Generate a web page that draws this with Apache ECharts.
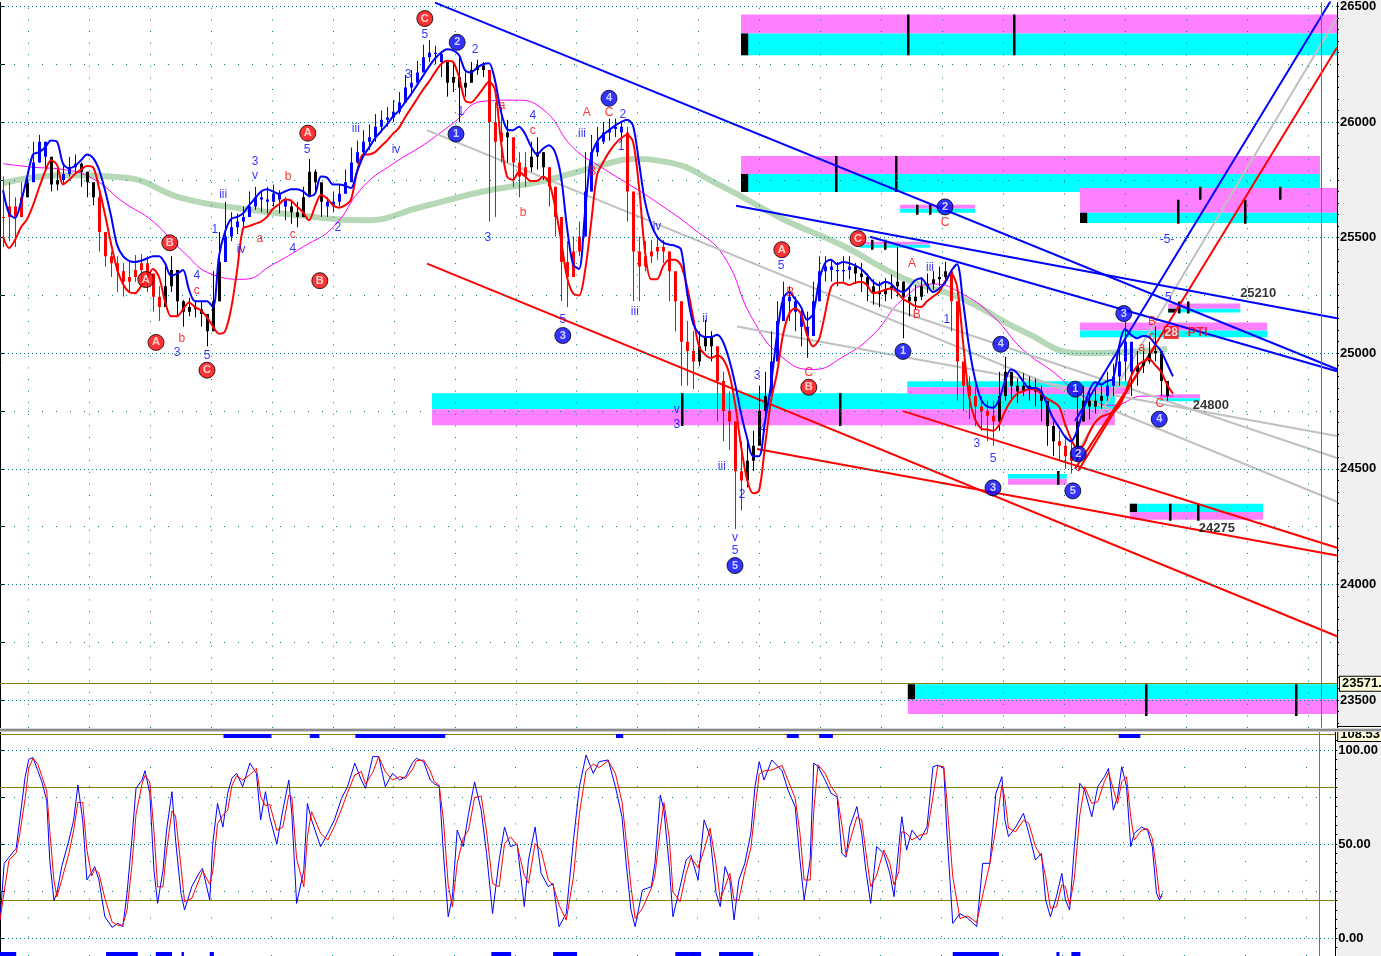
<!DOCTYPE html>
<html><head><meta charset="utf-8">
<script src="https://cdn.jsdelivr.net/npm/echarts/dist/echarts.min.js"></script>
<style>html,body{margin:0;padding:0;background:#fff}#chart{width:1381px;height:956px}</style>
</head><body><div id="chart"></div>
<script>
// ---------------- DATA ----------------
// bar index i is drawn at position i + 0.5 on the time axis
const closes = [25590,25635,25590,25675,25740,25825,25915,25850,25730,25750,
25775,25805,25820,25785,25740,25675,25525,25420,25390,25355,
25310,25330,25360,25390,25345,25245,25200,25290,25360,25225,
25180,25200,25190,25170,25095,25225,25395,25505,25545,25570,
25590,25635,25675,25665,25655,25690,25665,25635,25610,25590,
25675,25785,25740,25655,25635,25655,25690,25740,25825,25870,
25915,25935,25980,26010,26020,26045,26085,26150,26170,26215,
26280,26300,26295,26260,26170,26195,26150,26170,26225,26245,
26225,26000,25915,25955,25935,25825,25765,25805,25850,25870,
25805,25720,25590,25395,25330,25440,25505,25700,25870,25915,
25955,25970,25980,25955,25700,25440,25375,25420,25440,25460,
25440,25355,25225,25050,25010,24965,25030,25075,25030,24880,
24750,24705,24490,24450,24535,24600,24750,24815,24965,25140,
25245,25225,25180,25115,25075,25225,25355,25375,25360,25355,
25360,25375,25345,25330,25290,25265,25255,25275,25290,25310,
25245,25225,25245,25290,25300,25320,25330,25355,25225,24965,
24860,24815,24770,24750,24730,24705,24815,24920,24860,24835,
24860,24845,24835,24795,24685,24620,24600,24555,24535,24705,
24795,24770,24795,24815,24860,24900,24965,25050,24920,24945,
24965,25000,25010,24880,24815];
const highs = [25765,25740,25675,25740,25785,25915,25945,25915,25775,25795,
25825,25850,25860,25825,25785,25730,25700,25470,25440,25420,
25390,25395,25425,25430,25420,25310,25290,25375,25420,25265,
25230,25240,25230,25225,25160,25355,25525,25655,25610,25605,
25635,25700,25720,25705,25720,25730,25705,25675,25665,25655,
25720,25840,25795,25705,25675,25700,25730,25795,25890,25920,
25965,25990,26035,26050,26065,26095,26130,26205,26225,26265,
26335,26355,26330,26300,26260,26260,26280,26215,26260,26270,
26260,26195,26085,26065,26010,25890,25870,25870,25915,25935,
25870,25805,25700,25570,25485,25505,25570,25870,25945,25980,
26000,26015,26015,26000,25980,25635,25505,25485,25490,25505,
25490,25440,25310,25225,25140,25095,25095,25145,25095,25010,
24920,24835,24705,24620,24620,24665,24860,24920,25095,25225,
25310,25290,25245,25200,25180,25310,25420,25420,25405,25395,
25420,25420,25390,25390,25345,25320,25310,25325,25340,25460,
25310,25290,25295,25330,25345,25355,25375,25395,25355,25225,
24945,24900,24860,24815,24795,24795,24920,24985,24920,24890,
24915,24900,24890,24860,24770,24705,24665,24640,24620,24860,
24860,24835,24845,24860,24920,24955,25030,25140,25030,25010,
25010,25050,25115,24985,24860];
const lows = [25460,25485,25460,25590,25675,25765,25825,25785,25700,25705,
25735,25765,25775,25720,25675,25640,25440,25375,25330,25265,
25245,25265,25310,25320,25265,25180,25140,25225,25265,25160,
25115,25160,25155,25115,25030,25115,25225,25460,25485,25515,
25545,25590,25620,25610,25605,25635,25605,25575,25560,25545,
25610,25720,25690,25590,25590,25610,25635,25690,25775,25820,
25850,25880,25915,25955,25980,26000,26035,26095,26120,26165,
26225,26260,26250,26195,26110,26130,26000,26110,26180,26205,
26195,25570,25590,25825,25825,25720,25675,25720,25785,25795,
25750,25635,25505,25225,25200,25375,25420,25505,25700,25850,
25905,25920,25935,25915,25570,25225,25225,25355,25390,25405,
25390,25225,25095,24860,24860,24845,24945,25010,24965,24705,
24620,24580,24240,24320,24420,24490,24620,24705,24835,25030,
25160,25140,25095,25030,24980,25095,25265,25310,25310,25290,
25310,25320,25300,25265,25225,25210,25200,25225,25235,25245,
25065,25160,25190,25230,25260,25275,25290,25300,25095,24795,
24750,24715,24685,24665,24620,24600,24665,24795,24795,24785,
24815,24795,24770,24705,24600,24555,24535,24500,24480,24580,
24705,24715,24740,24760,24795,24815,24860,24880,24815,24860,
24915,24955,24965,24815,24795];
// trend state per bar range: dn = falling (red), up = rising (blue), nt = neutral (black)
const barTrend = [[0,3,'dn'],[4,4,'nt'],[5,7,'up'],[8,9,'nt'],[10,12,'up'],[13,15,'nt'],[16,26,'dn'],
[27,36,'nt'],[37,47,'up'],[48,53,'nt'],[54,73,'up'],[74,80,'nt'],[81,83,'dn'],[84,84,'nt'],[85,87,'dn'],
[88,90,'nt'],[91,96,'dn'],[97,103,'up'],[104,115,'dn'],[116,118,'nt'],[119,123,'dn'],[124,127,'nt'],
[128,141,'up'],[142,157,'nt'],[158,165,'dn'],[166,175,'nt'],[176,178,'dn'],[179,183,'nt'],[184,188,'up'],[189,194,'nt']];
const fastLine = [25705,25605,25585,25655,25760,25860,25870,25890,25920,25915,
25820,25800,25810,25835,25860,25845,25795,25705,25595,25470,
25420,25400,25395,25400,25410,25420,25420,25390,25335,25345,
25360,25275,25225,25225,25225,25200,25420,25525,25580,25590,
25605,25640,25670,25700,25710,25700,25690,25700,25710,25710,
25700,25680,25690,25765,25760,25730,25730,25725,25715,25785,
25850,25890,25930,25960,25990,26025,26050,26085,26120,26160,
26200,26240,26275,26300,26315,26310,26290,26225,26215,26235,
26250,26255,26180,26045,25970,25965,25980,25950,25895,25860,
25885,25900,25870,25765,25545,25385,25365,25610,25850,25915,
25945,25965,25985,26000,26010,25985,25825,25655,25560,25505,
25480,25470,25465,25450,25265,25130,25085,25070,25070,25080,
25050,24975,24870,24740,24635,24555,24555,24705,24865,25080,
25235,25265,25235,25200,25145,25170,25310,25390,25405,25385,
25395,25390,25380,25365,25340,25310,25295,25310,25300,25275,
25265,25285,25315,25325,25295,25265,25280,25305,25355,25385,
25225,25030,24890,24800,24770,24765,24800,24880,24930,24915,
24880,24850,24850,24835,24780,24720,24680,24640,24620,24665,
24750,24835,24875,24865,24880,24890,25030,25105,25080,25065,
25075,25070,25040,25010,24955,24900];
const slowLine = [25505,25455,25490,25545,25580,25640,25715,25785,25835,25815,
25730,25750,25775,25795,25810,25805,25715,25600,25475,25365,
25300,25265,25260,25290,25325,25365,25330,25225,25160,25160,
25190,25220,25200,25185,25155,25115,25085,25095,25190,25355,
25540,25550,25560,25570,25590,25625,25645,25665,25660,25635,
25610,25575,25635,25685,25670,25640,25630,25640,25665,25785,
25860,25860,25870,25895,25920,25950,25975,26020,26060,26100,
26140,26175,26215,26250,26265,26260,26195,26095,26085,26110,
26145,26175,26140,25915,25765,25750,25785,25765,25745,25745,
25765,25740,25635,25490,25330,25260,25250,25355,25560,25770,
25825,25870,25905,25930,25945,25915,25720,25440,25320,25320,
25375,25405,25405,25380,25290,25160,25030,24995,24980,24990,
24975,24915,24785,24600,24455,24395,24405,24600,24795,24915,
25080,25170,25195,25170,25080,25030,25060,25170,25285,25305,
25305,25295,25305,25310,25295,25260,25265,25275,25280,25265,
25235,25220,25205,25200,25225,25245,25265,25310,25345,25290,
25050,24815,24715,24675,24670,24665,24690,24750,24795,24825,
24835,24845,24845,24825,24805,24790,24770,24695,24630,24590,
24600,24655,24700,24725,24735,24745,24770,24825,24900,24945,
24965,24975,24950,24920,24865,24825];
// [bar, price]
const pinkLine = [[0,25820],[5,25805],[10,25795],[15,25755],[20,25655],[25,25570],[30,25440],[35,25340],[40,25320],[45,25385],
[50,25460],[55,25545],[60,25720],[65,25820],[70,25900],[75,25995],[80,26090],[85,26095],[90,26055],[95,25890],
[100,25800],[105,25720],[110,25635],[115,25540],[120,25425],[125,25145],[130,24980],[135,24930],[140,24985],[145,25080],
[150,25235],[155,25300],[160,25255],[165,25160],[170,25015],[175,24920],[180,24815],[185,24775],[190,24815],[195,24815]];
const greenLine = [[0,25735],[10,25770],[20,25760],[30,25670],[40,25625],[50,25595],[60,25575],[70,25635],[80,25700],[90,25745],
[100,25815],[105,25840],[110,25830],[120,25720],[130,25580],[140,25465],[150,25325],[160,25235],[170,25095],[180,25000],[190,25010],[194,25020]];
// trend lines: [[axisPos, price], [axisPos, price]]
const blueTrendLines = [[[72.5,26517],[222.83,24931]],[[122.67,25638],[222.83,25152]],[[145,25504],[222.83,24922]],[[179.17,24707],[222.83,26569]]];
const grayTrendLines = [[[71.17,25965],[222.83,24358]],[[122.83,25116],[222.83,24642]],[[145,25224],[222.83,24547]],[[178.67,24534],[222.83,26452]]];
const redTrendLines = [[[71.17,25388],[222.83,23776]],[[126.17,24586],[222.83,24125]],[[150.5,24750],[222.83,24159]],[[179.67,24491],[222.83,26323]],[[179.17,24500],[192.5,25030]]];
// zones: [from, to, priceLow, priceHigh, kind] kind c = support band, m = resistance band
const zoneBands = [
[123.5,222.83,26383,26465,'m'],[123.5,222.83,26289,26383,'c'],
[123.5,220,25776,25853,'m'],[123.5,220,25698,25776,'c'],
[180,222.83,25608,25715,'m'],[180,222.83,25564,25608,'c'],
[150,162.5,25625,25642,'m'],[150,162.5,25608,25625,'c'],
[143.3,155,25470,25483,'m'],[143.3,155,25457,25470,'c'],
[194.7,206.7,25193,25215,'m'],[194.7,206.7,25176,25193,'c'],
[180,211.2,25099,25133,'m'],[180,211.2,25069,25099,'c'],
[72,185.8,24758,24827,'c'],[72,185.8,24689,24758,'m'],
[151.2,188.3,24853,24879,'c'],[151.2,188.3,24823,24853,'m'],
[168,177.8,24457,24478,'c'],[168,177.8,24431,24457,'m'],
[193.3,200,24806,24823,'m'],[193.3,200,24793,24806,'c'],
[188.3,210.5,24314,24349,'c'],[188.3,210.5,24280,24314,'m'],
[151.3,222.83,23504,23569,'c'],[151.3,222.83,23440,23504,'m']];
const zoneBlocks = [[123.5,124.7,26289,26383],[123.5,124.7,25698,25776],[180,181.2,25564,25608],[194.7,196,25176,25193],[188.3,189.5,24314,24349],[151.3,152.5,23504,23569]];
const zoneTicks = [[151.3,26289,26465],[169,26289,26465],[139.3,25698,25853],[149.3,25698,25853],[196.3,25560,25664],[200,25664,25720],
[207.5,25560,25664],[213.3,25664,25720],[152.8,25599,25642],[155,25599,25642],[145.3,25448,25491],[147.5,25448,25491],
[196.5,25172,25224],[198,25172,25224],[113.7,24685,24827],[140,24685,24827],[176.3,24431,24491],[195,24276,24349],[199.7,24276,24349],
[191,23431,23569],[216,23431,23569]];
// wave labels: [axisPos, price, text]
const redCircleLabels = [[70.8,26448,'C'],[51.3,25952,'A'],[53.3,25314,'B'],[28.3,25478,'B'],[24.3,25319,'A'],[26,25047,'A'],[34.5,24927,'C'],
[130.3,25448,'A'],[134.8,24853,'B'],[143,25496,'C']];
const blueCircleLabels = [[76.2,26345,'2'],[76,25948,'1'],[101.5,26103,'4'],[93.8,25077,'3'],[122.5,24082,'5'],[150.5,25008,'1'],[157.5,25633,'2'],
[166.8,25039,'4'],[165.5,24418,'3'],[178.8,24405,'5'],[179.2,24845,'1'],[179.7,24565,'2'],[187.3,25172,'3'],[193.2,24715,'4']];
const blueTextLabels = [[70.8,26379,'5'],[79.2,26314,'2'],[68,26207,'3'],[59.3,25970,'iii'],[66,25879,'iv'],[76.8,26047,'1'],[81.3,25500,'3'],
[88.8,26026,'4'],[93.8,25146,'5'],[97,25952,'iii'],[103.8,26034,'2'],[103.5,25892,'1'],[109.5,25547,'iv'],[105.8,25181,'iii'],[117.5,25151,'ii'],
[112.8,24754,'v'],[112.8,24690,'3'],[120.3,24509,'iii'],[123.7,24388,'2'],[122.5,24202,'v'],[122.5,24147,'5'],[126.2,24905,'3'],[127.2,24672,'4'],
[130.2,25379,'5'],[37.2,25685,'iii'],[35.8,25534,'1'],[42.5,25827,'3'],[42.5,25767,'v'],[40.2,25448,'iv'],[48.8,25452,'4'],[56.3,25543,'2'],
[51.2,25879,'5'],[29.5,25004,'3'],[34.5,24991,'5'],[32.8,25336,'4'],[155,25370,'iii'],[157.8,25146,'1'],[162.8,24608,'3'],[165.5,24543,'5'],
[194.5,25491,'-5-'],[194.7,25241,'5']];
const redTextLabels = [[48,25763,'b'],[43.3,25496,'a'],[48.8,25513,'c'],[30.3,25065,'b'],[32.8,25271,'c'],[83.7,26069,'a'],[88.8,25965,'c'],
[87.2,25608,'b'],[97.8,26039,'A'],[101.5,26039,'C'],[98.7,25784,'B'],[131.7,25263,'B'],[134.8,24918,'C'],[152,25388,'A'],[152.8,25168,'B'],
[157.5,25564,'C'],[192,25138,'B'],[192,25073,'c'],[190.3,25026,'a'],[193.3,24784,'C']];
const priceTags = [[209.7,25258,'25210'],[201.8,24776,'24800'],[202.8,24241,'24275']];
const countTag = [[195.2,25090,'28']];
const countText = [[199.6,25090,'PTI']];
const refPrice = 23571;
const refPriceText = '23571.00';
const stochMaxText = '108.53';
const stochMax = 108.5;
// tick labels
const priceTicks = [23500,24000,24500,25000,25500,26000,26500];
const priceQuarterLevels = [23750,24250,24750,25250,25750,26250];
const stochTicks = [0,50,100];
const stochBands = [20,80];
// stochastic %K: [axisPos, value]
const stochK = [[0,9.6],[0.7,39.7],[1.5,43],[2.7,47.7],[3.3,62.8],[4.2,85.8],[4.8,95],[5.5,96],[6.3,89],[7,83],[7.8,73],[8.3,41.5],[9,20],[9.5,23.8],
[10.3,38],[11.5,52],[12.3,62.8],[13,81.4],[13.8,62.8],[14.5,30.9],[15.3,35],[15.8,38],[16.5,31],[17.5,11.3],[18.7,5.7],[19.7,7.8],[20.5,6],
[21.2,23.8],[22,52],[22.7,79.6],[23.7,84],[24.2,89],[25,77],[25.7,36],[26.3,18.4],[27.2,36],[27.8,57.4],[28.7,77.8],[29.3,52],[30.2,23.8],
[30.8,14.9],[32,27.3],[33.2,34.4],[33.8,37],[35,20.2],[35.5,50],[36.3,71.6],[37.2,59],[38,77],[38.7,85],[39.5,87.6],[40.5,80.5],[41.7,93],
[42.8,87.6],[43.5,62.8],[44.3,77.8],[45,64.5],[46.2,50],[47.2,68],[48.2,84],[48.7,66],[49.5,18.4],[50.7,36],[51.3,71.6],[52,62.8],[53.5,48.6],
[54.7,55.7],[55.8,62.8],[57,74.3],[58,80.5],[59.2,93],[60.3,84],[61,79.6],[62.2,96.5],[63.2,96.5],[64.3,80.5],[65.5,87.6],[66.7,84],[67.7,85.8],
[68.8,93],[69.5,95.6],[70.7,93.8],[71.8,84],[72.5,82],[73.3,80.5],[74,45],[74.8,11.3],[75.5,22],[76.3,57.4],[77.3,48.6],[78.2,66.3],[79.2,83],
[80.3,68],[81.2,45],[82.2,13],[83.3,41.5],[84.2,59],[85.2,48.6],[86.3,50],[87.5,16.7],[88.2,41.5],[89.3,59],[90.3,34.4],[91.5,27.3],[92.3,29],
[93.3,6],[94.5,13],[95.7,52],[96.7,80.5],[97.8,97.3],[99,87.6],[100,93.8],[101.5,94.7],[102.7,80.5],[103.8,64.5],[104.5,39.7],[105.3,14.9],
[106,6],[107.2,25.5],[108.7,27.3],[109.3,39.7],[110.2,76],[110.8,68],[111.7,38],[112.3,11.3],[113.5,27.3],[114.5,41.5],[115.3,44],[116.5,30.9],
[117.5,62.8],[118.5,54],[119.5,23.8],[120.2,16.7],[121,38],[121.8,30.9],[122.5,9.6],[123.3,30.9],[124.3,39.7],[125.3,55.7],[126,80.5],
[126.7,93.8],[127.5,84],[128.8,94.7],[130.5,89],[131.5,78.7],[132.7,69.9],[133.5,41.5],[134.2,20.2],[135.2,41.5],[135.8,93],[136.5,91.3],
[137.7,84],[138.7,77],[139.7,75],[140.5,45],[141.2,43],[141.8,59],[143,69.9],[143.8,55.7],[144.5,36],[145.3,18.4],[146.3,48.6],[147.5,45],
[148.5,34.4],[149.2,22],[150,48.6],[150.5,64.5],[151.3,46.8],[152.2,57.4],[153.5,52],[154.7,59],[155.7,91.1],[156.5,92],[157.5,90.2],[158,57.4],
[159,7.8],[160.2,13],[161.5,10.5],[163,6],[164,39.7],[165.2,39.7],[166.2,77],[167.2,85.8],[167.7,62.8],[168.3,54],[169.5,59],[170.8,66.3],
[171.7,55.7],[172.8,41.5],[173.8,45],[174.5,20.2],[175.3,11.3],[176.3,22],[177.2,34.4],[177.8,20.2],[178.5,14.9],[179.3,48.6],[180.2,82.3],
[181,78.7],[182.2,64.5],[183.2,80.5],[184.3,85.8],[185,90.2],[185.8,68],[186.5,75],[187.2,91.1],[188,80.5],[188.7,48.6],[189.3,55.7],[190.5,59],
[191.5,57.4],[192.3,48.6],[193,23.8],[193.5,20.2],[194,23.8]];
const stochHighZones = [[37.3,45.3],[51.7,53.3],[59.3,74.3],[102.8,104],[131.3,133.3],[136.7,139],[186.7,190.3]];
const stochLowZones = [[0,2.7],[17.7,23],[26,28.7],[30.3,30.7],[35,35.7],[82,85.3],[92.3,96.3],[112.7,117],[120,125.7],[159,166.7],[176.3,176.8],[178.8,180.3]];
const nowPos = 220.17;

// ---------------- CHART ----------------
const XMAX = 222.83;
const PMIN = 23379.3, PMAX = 26517.2;
const SMIN = -9.57, SMAX = 109.57;
const DAY0 = 4.717, DAYSTEP = 10.155;
const FONT = 'Liberation Sans, Arial, sans-serif';
const TEAL = '#008080', OLIVE = '#808000';

const chart = echarts.init(document.getElementById('chart'), null, {renderer: 'canvas'});

function trendOf(i) { for (const [a, b, s] of barTrend) if (i >= a && i <= b) return s; return 'nt'; }
const trendColor = {dn: '#ff0000', up: '#0000ff', nt: '#000000'};
const trendCode = {dn: 0, up: 1, nt: 2};
const codeColor = ['#ff0000', '#0000ff', '#000000'];

const candleData = closes.map((c, i) => [i + 0.5, i === 0 ? c : closes[i - 1], c, lows[i], highs[i], trendCode[trendOf(i)]]);

// stochastic %D: 2-point average of %K
const stochD = stochK.map((pt, j) => j === 0 ? pt : [pt[0], (pt[1] + stochK[j - 1][1]) / 2]);

const dayLines = [];
for (let k = 0; DAY0 + k * DAYSTEP < XMAX; k++) dayLines.push(DAY0 + k * DAYSTEP);
const priceMinor = []; for (let v = 23400; v <= 26500; v += 50) priceMinor.push(v);
const priceMajor = []; for (let v = 23500; v <= 26500; v += 250) priceMajor.push(v);
const stochMinor = []; for (let v = -5; v <= 105; v += 5) stochMinor.push(v);
const stochMajor = []; for (let v = 0; v <= 100; v += 25) stochMajor.push(v);

const upperMarks = [];
priceTicks.forEach(v => upperMarks.push({yAxis: v, lineStyle: {color: TEAL, type: [1, 3], width: 1}}));
priceQuarterLevels.forEach(v => upperMarks.push({yAxis: v, lineStyle: {color: TEAL, type: [1, 13], width: 1}}));
dayLines.forEach(p => upperMarks.push({xAxis: p, lineStyle: {color: TEAL, type: [1, 10.6], width: 1}}));
upperMarks.push({xAxis: nowPos, lineStyle: {color: OLIVE, type: 'solid', width: 1}});
upperMarks.push({yAxis: refPrice, lineStyle: {color: OLIVE, type: 'solid', width: 1},
  label: {show: true, position: 'end', formatter: refPriceText, distance: 3, color: '#000', fontFamily: FONT, fontWeight: 'bold', fontSize: 13,
    backgroundColor: '#ffffe0', borderColor: '#000', borderWidth: 1, padding: [1, 2, 0, 2]}});

const lowerMarks = [];
stochTicks.forEach(v => lowerMarks.push({yAxis: v, lineStyle: {color: TEAL, type: [1, 3], width: 1}}));
[25, 75].forEach(v => lowerMarks.push({yAxis: v, lineStyle: {color: TEAL, type: [1, 13], width: 1}}));
dayLines.forEach(p => lowerMarks.push({xAxis: p, lineStyle: {color: TEAL, type: [1, 17.8], width: 1}}));
stochBands.forEach(v => lowerMarks.push({yAxis: v, lineStyle: {color: OLIVE, type: 'solid', width: 1}}));
lowerMarks.push({xAxis: nowPos, lineStyle: {color: OLIVE, type: 'solid', width: 1}});
lowerMarks.push({yAxis: stochMax, lineStyle: {color: OLIVE, type: 'solid', width: 1},
  label: {show: true, position: 'end', formatter: stochMaxText, distance: 3, color: '#000', fontFamily: FONT, fontWeight: 'bold', fontSize: 13,
    backgroundColor: '#ffffe0', borderColor: '#000', borderWidth: 1, padding: [1, 2, 0, 2]}});

function lineSeries(segs, color, width, z) {
  return segs.map(s => ({type: 'line', xAxisIndex: 0, yAxisIndex: 0, data: s, symbol: 'none', silent: true, z: z,
    lineStyle: {color: color, width: width}, animation: false}));
}
function textSeries(data, color, size, weight, z) {
  return {type: 'scatter', xAxisIndex: 0, yAxisIndex: 0, data: data, symbolSize: 1, itemStyle: {color: 'transparent'}, z: z, silent: true,
    label: {show: true, position: 'inside', formatter: p => p.data[2], color: color, fontSize: size, fontFamily: FONT, fontWeight: weight}, animation: false};
}
function circleSeries(data, fill) {
  return {type: 'scatter', xAxisIndex: 0, yAxisIndex: 0, data: data, symbol: 'circle', symbolSize: 16, z: 12, silent: true,
    itemStyle: {color: fill, borderColor: '#000', borderWidth: 1},
    label: {show: true, position: 'inside', formatter: p => p.data[2], color: '#fff', fontSize: 11, fontWeight: 'bold', fontFamily: FONT}, animation: false};
}

const yAxisBase = {type: 'value', position: 'right', axisLine: {show: true, lineStyle: {color: '#000', width: 1}}, splitLine: {show: false}};

const option = {
  animation: false,
  backgroundColor: '#ffffff',
  grid: [
    {left: 0, right: 44, top: 0, height: 728},
    {left: 0, right: 44, top: 732, height: 224}
  ],
  xAxis: [
    {gridIndex: 0, type: 'value', min: 0, max: XMAX, show: false},
    {gridIndex: 1, type: 'value', min: 0, max: XMAX, show: false}
  ],
  yAxis: [
    Object.assign({}, yAxisBase, {gridIndex: 0, min: PMIN, max: PMAX,
      axisTick: {show: true, length: 5, customValues: priceMajor, lineStyle: {color: '#000'}},
      axisLabel: {show: true, customValues: priceTicks, formatter: v => String(v), margin: 3, color: '#000', fontSize: 13, fontWeight: 'bold', fontFamily: FONT}}),
    Object.assign({}, yAxisBase, {gridIndex: 0, min: PMIN, max: PMAX,
      axisTick: {show: true, length: 2, customValues: priceMinor, lineStyle: {color: '#000'}}, axisLabel: {show: false}}),
    Object.assign({}, yAxisBase, {gridIndex: 1, min: SMIN, max: SMAX,
      axisTick: {show: true, length: 5, customValues: stochMajor, lineStyle: {color: '#000'}},
      axisLabel: {show: true, customValues: stochTicks, formatter: v => Number(v).toFixed(2), margin: 3, color: '#000', fontSize: 13, fontWeight: 'bold', fontFamily: FONT}}),
    Object.assign({}, yAxisBase, {gridIndex: 1, min: SMIN, max: SMAX,
      axisTick: {show: true, length: 2, customValues: stochMinor, lineStyle: {color: '#000'}}, axisLabel: {show: false}})
  ],
  graphic: [
    {type: 'rect', shape: {x: 1337, y: 0, width: 44, height: 956}, style: {fill: '#f0f0f0'}, z: -100, silent: true},
    {type: 'rect', shape: {x: 0, y: 728, width: 1381, height: 4}, style: {fill: '#d4d4d4'}, z: 100, silent: true},
    {type: 'rect', shape: {x: 0, y: 729, width: 1381, height: 2}, style: {fill: '#8c8c8c'}, z: 101, silent: true}
  ],
  series: [
    {type: 'line', xAxisIndex: 0, yAxisIndex: 0, data: [[0, PMIN]], symbol: 'none', lineStyle: {width: 0}, z: 0, silent: true,
      markLine: {silent: true, symbol: ['none', 'none'], animation: false, label: {show: false}, data: upperMarks}},
    {type: 'line', xAxisIndex: 1, yAxisIndex: 2, data: [[0, SMIN]], symbol: 'none', lineStyle: {width: 0}, z: 0, silent: true,
      markLine: {silent: true, symbol: ['none', 'none'], animation: false, label: {show: false}, data: lowerMarks}},
    // zones
    {type: 'custom', xAxisIndex: 0, yAxisIndex: 0, z: 1, silent: true, clip: true,
      data: zoneBands.map(b => [b[0], b[1], b[2], b[3], b[4] === 'c' ? 0 : 1]),
      renderItem: (params, api) => {
        const p0 = api.coord([api.value(0), api.value(3)]);
        const p1 = api.coord([api.value(1), api.value(2)]);
        return {type: 'rect', shape: {x: p0[0], y: p0[1], width: p1[0] - p0[0], height: p1[1] - p0[1]},
          style: {fill: api.value(4) === 0 ? '#00ffff' : '#ff80ff'}};
      }},
    {type: 'custom', xAxisIndex: 0, yAxisIndex: 0, z: 1, silent: true, clip: true,
      data: zoneBlocks,
      renderItem: (params, api) => {
        const p0 = api.coord([api.value(0), api.value(3)]);
        const p1 = api.coord([api.value(1), api.value(2)]);
        return {type: 'rect', shape: {x: p0[0], y: p0[1], width: p1[0] - p0[0], height: p1[1] - p0[1]}, style: {fill: '#000'}};
      }},
    {type: 'custom', xAxisIndex: 0, yAxisIndex: 0, z: 1, silent: true, clip: true,
      data: zoneTicks,
      renderItem: (params, api) => {
        const p0 = api.coord([api.value(0), api.value(2)]);
        const p1 = api.coord([api.value(0), api.value(1)]);
        return {type: 'rect', shape: {x: Math.round(p0[0]) - 1, y: p0[1], width: 2.5, height: p1[1] - p0[1]}, style: {fill: '#000'}};
      }},
    // long averages
    {type: 'line', xAxisIndex: 0, yAxisIndex: 0, data: greenLine.map(d => [d[0] + 0.5, d[1]]), smooth: true, symbol: 'none', z: 2, silent: true,
      lineStyle: {color: '#b6d8b6', width: 6}},
    {type: 'line', xAxisIndex: 0, yAxisIndex: 0, data: pinkLine.map(d => [d[0] + 0.5, d[1]]), smooth: true, symbol: 'none', z: 2, silent: true,
      lineStyle: {color: '#ff00ff', width: 1}},
    ...lineSeries(grayTrendLines, '#c0c0c0', 2, 3),
    ...lineSeries(redTrendLines, '#ff0000', 2, 3),
    ...lineSeries(blueTrendLines, '#0000ff', 2, 3),
    // price bars
    {type: 'custom', xAxisIndex: 0, yAxisIndex: 0, z: 4, silent: true, clip: true,
      data: candleData,
      renderItem: (params, api) => {
        const x = api.value(0);
        const pO = api.coord([x, api.value(1)]), pC = api.coord([x, api.value(2)]);
        const pL = api.coord([x, api.value(3)]), pH = api.coord([x, api.value(4)]);
        const col = codeColor[api.value(5)];
        const xc = Math.round(pO[0]) + 0.5;
        const top = Math.min(pO[1], pC[1]);
        const h = Math.max(1, Math.abs(pO[1] - pC[1]));
        return {type: 'group', children: [
          {type: 'line', shape: {x1: xc, y1: pH[1], x2: xc, y2: pL[1]}, style: {stroke: col, lineWidth: 1}},
          {type: 'rect', shape: {x: xc - 1.5, y: top, width: 3, height: h}, style: {fill: col}}
        ]};
      }},
    {type: 'line', xAxisIndex: 0, yAxisIndex: 0, data: slowLine.map((v, i) => [i + 0.5, v]), smooth: 0.3, symbol: 'none', z: 5, silent: true,
      lineStyle: {color: '#ff0000', width: 2}},
    {type: 'line', xAxisIndex: 0, yAxisIndex: 0, data: fastLine.map((v, i) => [i + 0.5, v]), smooth: 0.3, symbol: 'none', z: 5, silent: true,
      lineStyle: {color: '#0000ff', width: 2}},
    // labels
    textSeries(blueTextLabels, '#0000ff', 12, 'normal', 10),
    textSeries(redTextLabels, '#ff0000', 12, 'normal', 10),
    textSeries(priceTags, '#000000', 13, 'bold', 10),
    textSeries(countText, '#ff0000', 13, 'bold', 11),
    {type: 'scatter', xAxisIndex: 0, yAxisIndex: 0, data: countTag, symbol: 'rect', symbolSize: [15, 13], z: 11, silent: true,
      itemStyle: {color: '#ff0000'},
      label: {show: true, position: 'inside', formatter: p => p.data[2], color: '#fff', fontSize: 12, fontWeight: 'bold', fontFamily: FONT}},
    circleSeries(redCircleLabels, '#ff0000'),
    circleSeries(blueCircleLabels, '#0000ff'),
    // stochastic panel
    {type: 'line', xAxisIndex: 1, yAxisIndex: 2, data: stochK, symbol: 'none', z: 5, silent: true, lineStyle: {color: '#0000ff', width: 1}},
    {type: 'line', xAxisIndex: 1, yAxisIndex: 2, data: stochD, symbol: 'none', z: 6, silent: true, lineStyle: {color: '#ff0000', width: 1}},
    {type: 'custom', xAxisIndex: 1, yAxisIndex: 2, z: 7, silent: true, clip: false,
      data: stochHighZones.map(z => [z[0], z[1], 1]).concat(stochLowZones.map(z => [z[0], z[1], -1])),
      renderItem: (params, api) => {
        const x0 = api.coord([api.value(0), 50])[0];
        const x1 = api.coord([api.value(1), 50])[0];
        const cs = params.coordSys;
        const y = api.value(2) > 0 ? cs.y + 2 : cs.y + cs.height - 4;
        return {type: 'rect', shape: {x: x0, y: y, width: Math.max(1.5, x1 - x0), height: 4}, style: {fill: '#0000ff'}};
      }}
  ]
};
chart.setOption(option);
</script>
</body></html>
